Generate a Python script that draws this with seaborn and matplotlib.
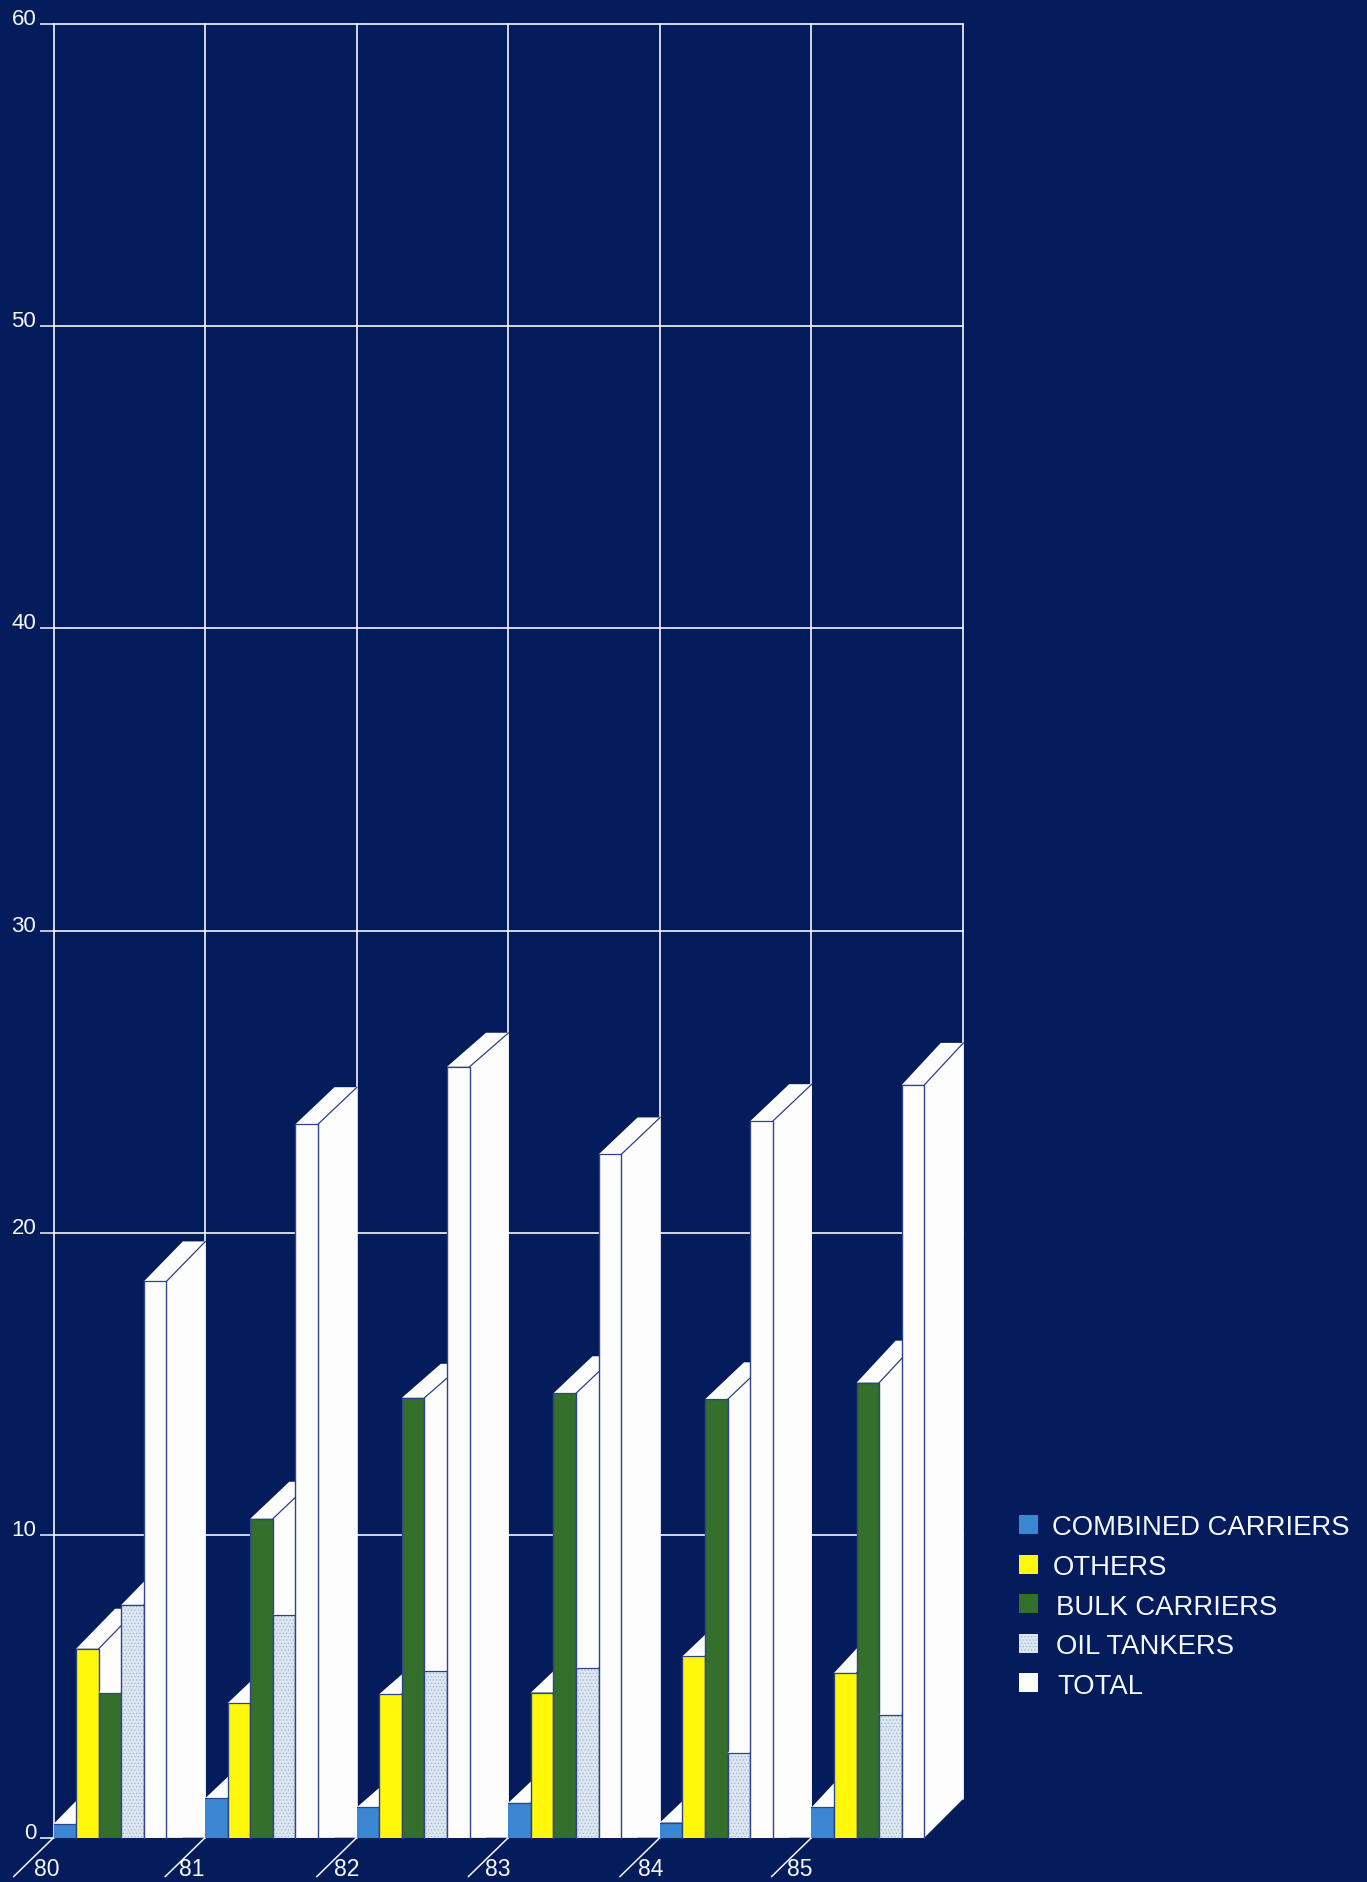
import matplotlib
matplotlib.use("Agg")
import matplotlib.pyplot as plt
from matplotlib.patches import Patch, Polygon
import pandas as pd
import seaborn as sns

years = ["80", "81", "82", "83", "84", "85"]
series = ["COMBINED CARRIERS", "OTHERS", "BULK CARRIERS", "OIL TANKERS", "TOTAL"]
combined = [0.45, 1.3, 1.0, 1.15, 0.5, 1.0]
others = [6.25, 4.45, 4.75, 4.8, 6.0, 5.45]
bulk = [4.8, 10.55, 14.55, 14.7, 14.5, 15.05]
oil = [7.7, 7.35, 5.5, 5.6, 2.8, 4.05]
total = [18.4, 23.6, 25.5, 22.6, 23.7, 24.9]
y_ticks = [0, 10, 20, 30, 40, 50, 60]

NAVY = "#041B5C"
LINE = "#2F4488"
WHITE = "#FDFDFE"
GRID = "#F5F7FA"
colors = ["#3A86D3", "#FFF80A", "#356F2C", "#DCE7F2", WHITE]
OIL_SPECK = "#9DB4D2"

sns.set_theme(style="white")
plt.rcParams["font.family"] = ["Liberation Sans", "DejaVu Sans"]
plt.rcParams["hatch.linewidth"] = 0.5

W, H = 1367, 1883
fig = plt.figure(figsize=(W / 100, H / 100), dpi=100, facecolor=NAVY)
AX_L, AX_W, AX_B, AX_H = 53.5, 909.5, 1838.7, 1814
ax = fig.add_axes([AX_L / W, 1 - AX_B / H, AX_W / W, AX_H / H], facecolor=NAVY)

values = [combined, others, bulk, oil, total]
df = pd.DataFrame(
    [(y, s, v[i]) for s, v in zip(series, values) for i, y in enumerate(years)],
    columns=["year", "series", "value"],
)
GROUP = 0.745
sns.barplot(
    data=df, x="year", y="value", hue="series", order=years, hue_order=series,
    palette=dict(zip(series, colors)), saturation=1, width=GROUP, gap=0,
    errorbar=None, legend=False, ax=ax,
)

ax.set_xlim(-GROUP / 2, len(years) - GROUP / 2)
ax.set_ylim(0, 60)
sns.despine(ax=ax, left=True, bottom=True)
ax.set_xlabel("")
ax.set_ylabel("")

PX_X = AX_W / 6
PX_Y = AX_H / 60
DX = 39 / PX_X
depth_px = [40, 37, 34, 37, 37, 42]

# Walls: grid lines, vertical lines on each year boundary
edges = [i - GROUP / 2 for i in range(len(years))] + [len(years) - GROUP / 2]
for v in y_ticks[1:]:
    ax.axhline(v, color=GRID, lw=1.2, zorder=1, clip_on=False)
for n, x in enumerate(edges):
    ymin = 39 / AX_H if n == len(years) else 0
    ax.axvline(x, ymin=ymin, color=GRID, lw=1.2, zorder=1, clip_on=False)

# 3-D extrusion of each bar
last_year = len(years) - 1
for j, cont in enumerate(ax.containers):
    for k, p in enumerate(cont.patches):
        x0, w, h = p.get_x(), p.get_width(), p.get_height()
        x1 = x0 + w
        dy = depth_px[k] / PX_Y
        base = 3 + k * 10 + j * 1.5
        foot = 39 / PX_Y if k == last_year else 0
        ax.add_patch(Polygon([(x1, 0), (x1 + DX, foot), (x1 + DX, h + dy), (x1, h)],
                             closed=True, fc=WHITE, ec="none", zorder=base, clip_on=False))
        ax.add_patch(Polygon([(x0, h), (x0 + DX, h + dy), (x1 + DX, h + dy), (x1, h)],
                             closed=True, fc=WHITE, ec="none", zorder=base, clip_on=False))
        ax.plot([x1, x1 + DX], [h, h + dy], color=LINE, lw=0.9, zorder=base + 0.1, clip_on=False)
        p.set_zorder(base + 0.2)
        p.set_clip_on(False)
        if j == 3:
            p.set_hatch(".....")
            p.set_edgecolor(OIL_SPECK)
            p.set_linewidth(0)
        else:
            p.set_edgecolor("none")
        if j > 0:
            ax.plot([x0, x0], [0, h], color=LINE, lw=1.0, zorder=base + 0.3, clip_on=False)
        ax.plot([x1, x1], [0, h], color=LINE, lw=1.0, zorder=base + 0.3, clip_on=False)
        ax.plot([x0, x1], [h, h], color=LINE, lw=0.9, zorder=base + 0.3, clip_on=False)

# Y axis ticks with labels resting on the tick level
ax.set_yticks(y_ticks)
ax.set_xticks([])
ax.tick_params(axis="y", left=True, length=10, width=1.1, color=GRID,
               labelcolor="#F6F8FB", labelsize=16, pad=2.5)
for lbl in ax.get_yticklabels():
    lbl.set_va("baseline")

# Slanted year ticks
label_off = [-7, -13, -10, -10, -9, -12]
for x, y, off in zip(edges, years, label_off):
    ax.annotate("", xy=(x, 0), xycoords="data", xytext=(-40, -39), textcoords="offset pixels",
                arrowprops=dict(arrowstyle="-", color=GRID, lw=1.1, shrinkA=0, shrinkB=0),
                annotation_clip=False)
    ax.annotate(y, xy=(x, 0), xycoords="data", xytext=(off, -31), textcoords="offset pixels",
                ha="center", va="center", color="#F6F8FB", fontsize=16.5, annotation_clip=False)

# Legend
handles = [Patch(facecolor=c, edgecolor="none") for c in colors]
handles[3] = Patch(facecolor=colors[3], edgecolor=OIL_SPECK, hatch=".....", linewidth=0)
leg = fig.legend(
    handles, series, loc="upper left", bbox_to_anchor=(1019 / W, 1 - 1515.5 / H),
    bbox_transform=fig.transFigure, frameon=False, fontsize=19.85,
    handlelength=0.7, handleheight=0.68, handletextpad=0.5,
    labelspacing=0.49, borderpad=0, borderaxespad=0, labelcolor="#F6F8FB",
)
text_shift = [0, 1, 4, 4, 5]
for t, s in zip(leg.get_texts(), text_shift):
    t.set_x(s)

fig.savefig("out.png", dpi=100, facecolor=NAVY)
